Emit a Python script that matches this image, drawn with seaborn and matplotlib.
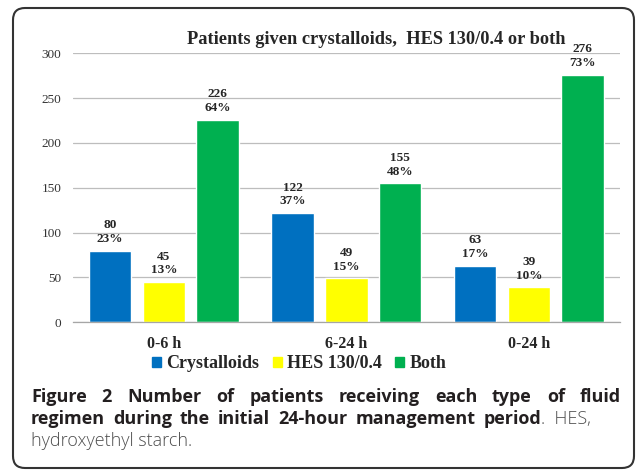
import numpy as np
import pandas as pd
import matplotlib
matplotlib.use("Agg")
import matplotlib.pyplot as plt
import matplotlib.patches as mpatches
import seaborn as sns


# =========================
# data
# =========================
periods = ["0-6 h", "6-24 h", "0-24 h"]
fluids = ["Crystalloids", "HES 130/0.4", "Both"]
crystalloids = [80, 122, 63]
hes = [45, 49, 39]
both = [226, 155, 276]
crystalloids_pct = ["23%", "37%", "17%"]
hes_pct = ["13%", "15%", "10%"]
both_pct = ["64%", "48%", "73%"]
colors = ["#0070C0", "#FFFF00", "#00B050"]

title = "Patients given crystalloids,  HES 130/0.4 or both"
caption_bold_1 = "Figure 2 Number of patients receiving each type of fluid"
caption_bold_2 = "regimen during the initial 24-hour management period"
caption_reg_2 = ". HES,"
caption_reg_3 = "hydroxyethyl starch."

df = pd.DataFrame({
    "period": periods * 3,
    "fluid": [f for f in fluids for _ in periods],
    "count": crystalloids + hes + both,
})
pct = {fluids[0]: crystalloids_pct, fluids[1]: hes_pct, fluids[2]: both_pct}

SERIF = "Liberation Serif"
SANS = "Open Sans"

sns.set_style("white")
plt.rcParams["font.family"] = [SERIF, "DejaVu Serif"]

fig = plt.figure(figsize=(6.36, 4.71), dpi=100)
ax = fig.add_axes([72.7 / 636, 1 - 322.3 / 471, (620 - 72.7) / 636, 269 / 471])

sns.barplot(data=df, x="period", y="count", hue="fluid", order=periods,
            hue_order=fluids, palette=colors, width=0.885, gap=0.21,
            saturation=1, legend=False, ax=ax)

for cont, f in zip(ax.containers, fluids):
    labels = [f"{int(v)}\n{p}" for v, p in zip(cont.datavalues, pct[f])]
    ax.bar_label(cont, labels=labels, padding=4, fontsize=9.5, fontweight="bold",
                 family=SERIF, linespacing=1.2, clip_on=False)

ax.set_ylim(0, 300)
ax.set_xlim(-0.5, 2.5)
ax.set_yticks(range(0, 301, 50))
ax.yaxis.grid(True, color="#BDBDBD", linewidth=0.9)
ax.set_axisbelow(True)
for s in ["top", "right", "left"]:
    ax.spines[s].set_visible(False)
ax.spines["bottom"].set_color("#A6A6A6")
ax.spines["bottom"].set_linewidth(0.9)
ax.tick_params(axis="both", length=0)
ax.tick_params(axis="y", labelsize=9.5, labelcolor="#333333", pad=8)
ax.tick_params(axis="x", labelsize=11.5, pad=10)
for t in ax.get_xticklabels():
    t.set_fontweight("bold")
ax.set_xlabel("")
ax.set_ylabel("")

fig.text(376 / 636, 1 - 40 / 471, title, ha="center", va="center",
         fontsize=13.2, fontweight="bold", family=SERIF)

handles = [mpatches.Patch(color=c, label=f) for c, f in zip(colors, fluids)]
fig.legend(handles=handles, loc="center left", bbox_to_anchor=(152 / 636, 1 - 364 / 471),
           ncol=3, frameon=False, handlelength=0.5, handleheight=0.5,
           handletextpad=0.28, columnspacing=0.75, borderpad=0, borderaxespad=0,
           prop={"family": SERIF, "weight": "bold", "size": 13})

# caption
renderer = fig.canvas.get_renderer()
cap_size = 13
x_left = 31


def measure(s, weight):
    t = fig.text(0, 0, s, fontsize=cap_size, fontweight=weight, family=SANS)
    w = t.get_window_extent(renderer).width
    t.remove()
    return w


def put_line(pieces, y, x_right):
    # pieces: list of (word, weight, color), spread so the line ends at x_right
    widths = [measure(w, wt) for w, wt, c in pieces]
    space = measure("a b", "bold") - measure("ab", "bold")
    space = max(space * 0.8, (x_right - x_left - sum(widths)) / (len(pieces) - 1))
    x = x_left
    for (w, wt, c), wd in zip(pieces, widths):
        fig.text(x / 636, 1 - y / 471, w, ha="left", va="center", fontsize=cap_size,
                 fontweight=wt, family=SANS, color=c)
        x += wd + space
    return x - space


dark, grey = "#231F20", "#4D4D4D"
line1 = [(w, "bold", dark) for w in caption_bold_1.split()]
line2 = [(w, "bold", dark) for w in caption_bold_2.split()]
put_line(line1, 397, 621)
end2 = put_line(line2, 419, 541)
fig.text(end2 / 636, 1 - 419 / 471, caption_reg_2.replace(" ", "  "), ha="left",
         va="center", fontsize=cap_size, fontweight="light", family=SANS, color=grey)
fig.text(x_left / 636, 1 - 441 / 471, caption_reg_3, ha="left", va="center",
         fontsize=cap_size, fontweight="light", family=SANS, color=grey)

# rounded frame
frame = mpatches.FancyBboxPatch((0.13, 0.03), 6.21, 4.60,
                                boxstyle="round,pad=0,rounding_size=0.12",
                                transform=fig.dpi_scale_trans, fill=False,
                                edgecolor="#333333", linewidth=1.5)
fig.patches.append(frame)

fig.savefig("out.png", dpi=100)
